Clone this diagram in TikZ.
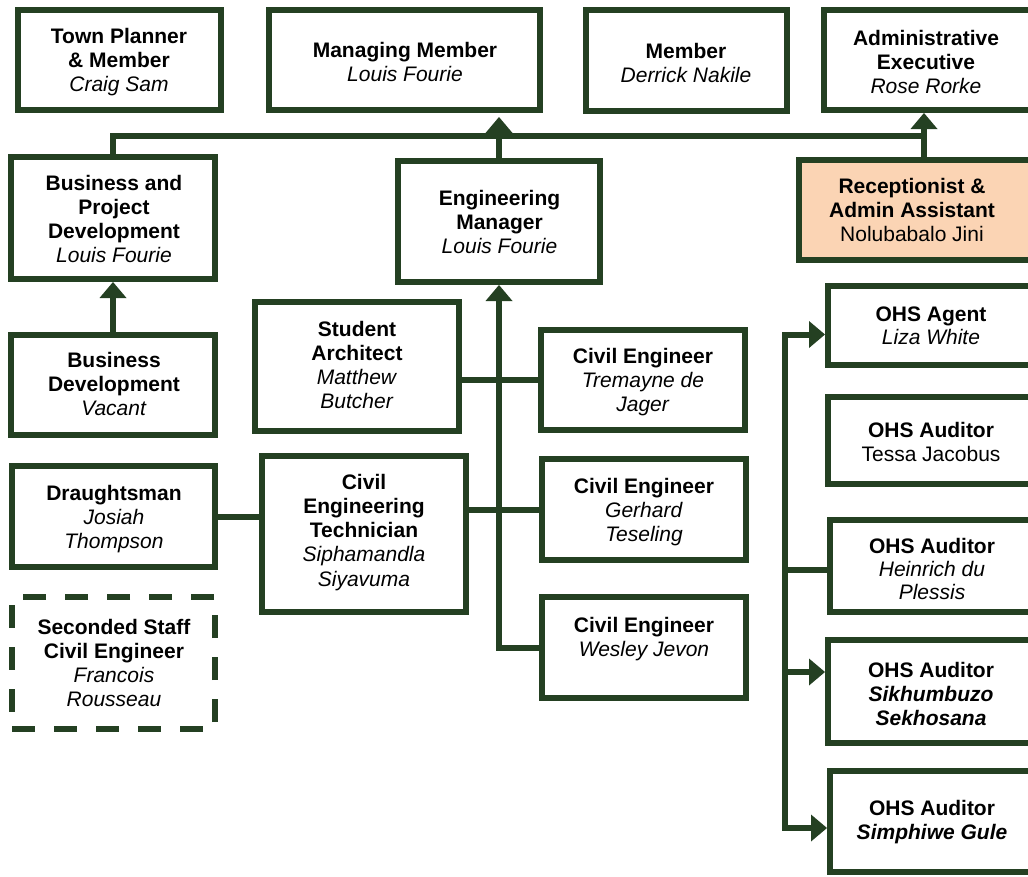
\documentclass[tikz,border=0pt]{standalone}
\usepackage{fontspec}
\setmainfont{Liberation Sans}
\usetikzlibrary{arrows.meta}
\definecolor{dg}{RGB}{36,64,34}
\definecolor{peach}{RGB}{251,212,180}
\begin{document}
\begin{tikzpicture}[x=1pt,y=-1pt,
  box/.style={draw=dg,line width=6pt,fill=white,outer sep=0pt,inner sep=0pt},
  txt/.style={anchor=north,align=center,inner sep=0pt,outer sep=0pt,text=black,font=\fontsize{21}{24.2}\selectfont},
  conn/.style={draw=dg,line width=6pt,line cap=rect},
  arr/.style={conn,-{Triangle[length=16pt,width=27pt,line width=0pt]},shorten >=3pt},
]
\useasboundingbox (0,0) rectangle (1028,876);

% top row
\node[box,minimum width=203pt,minimum height=100pt] (tp) at (119.5,60) {};
\node[txt] (tp-t) at (119,28) {\textbf{Town Planner}\\\textbf{\& Member}\\\textit{Craig Sam}};
\node[box,minimum width=271pt,minimum height=100pt] (mm) at (404.5,60) {};
\node[txt] (mm-t) at (405,42) {\textbf{Managing Member}\\\textit{Louis Fourie}};
\node[box,minimum width=201pt,minimum height=101pt] (mem) at (686.5,60.5) {};
\node[txt] (mem-t) at (686,43) {\textbf{Member}\\\textit{Derrick Nakile}};
\node[box,minimum width=210pt,minimum height=100pt] (ae) at (929,60) {};
\node[txt] (ae-t) at (926,30) {\textbf{Administrative}\\\textbf{Executive}\\\textit{Rose Rorke}};

% second row
\node[box,minimum width=204pt,minimum height=122pt] (bpd) at (113,218) {};
\node[txt] (bpd-t) at (114,175) {\textbf{Business and}\\\textbf{Project}\\\textbf{Development}\\\textit{Louis Fourie}};
\node[box,minimum width=202pt,minimum height=121pt] (em) at (499,221.5) {};
\node[txt] (em-t) at (499.5,190) {\textbf{Engineering}\\\textbf{Manager}\\\textit{Louis Fourie}};
\node[box,fill=peach,minimum width=232pt,minimum height=100pt] (rec) at (915,210) {};
\node[txt] (rec-t) at (912,178) {\textbf{Receptionist \&}\\\textbf{Admin Assistant}\\Nolubabalo Jini};

% left column
\node[box,minimum width=204pt,minimum height=100pt] (bd) at (113,385) {};
\node[txt] (bd-t) at (114,352) {\textbf{Business}\\\textbf{Development}\\\textit{Vacant}};
\node[box,minimum width=203pt,minimum height=101pt] (dr) at (113.5,516.5) {};
\node[txt] (dr-t) at (114,485) {\textbf{Draughtsman}\\\textit{Josiah}\\\textit{Thompson}};
\node[box,dash pattern=on 23pt off 19pt,minimum width=203pt,minimum height=132pt] (ss) at (113.5,663) {};
\node[txt] (ss-t) at (114,619) {\textbf{Seconded Staff}\\\textbf{Civil Engineer}\\\textit{Francois}\\\textit{Rousseau}};

% middle column
\node[box,minimum width=204pt,minimum height=129pt] (sa) at (357,366.5) {};
\node[txt] (sa-t) at (357,321) {\textbf{Student}\\\textbf{Architect}\\\textit{Matthew}\\\textit{Butcher}};
\node[box,minimum width=204pt,minimum height=156pt] (cet) at (364,534) {};
\node[txt] (cet-t) at (364,474) {\textbf{Civil}\\\textbf{Engineering}\\\textbf{Technician}\\\textit{Siphamandla}\\\textit{Siyavuma}};

% civil engineers
\node[box,minimum width=204pt,minimum height=100pt] (ce1) at (643,380) {};
\node[txt] (ce1-t) at (643,348) {\textbf{Civil Engineer}\\\textit{Tremayne de}\\\textit{Jager}};
\node[box,minimum width=204pt,minimum height=101pt] (ce2) at (644,509.5) {};
\node[txt] (ce2-t) at (644,478) {\textbf{Civil Engineer}\\\textit{Gerhard}\\\textit{Teseling}};
\node[box,minimum width=204pt,minimum height=101pt] (ce3) at (644,647.5) {};
\node[txt] (ce3-t) at (644,617) {\textbf{Civil Engineer}\\\textit{Wesley Jevon}};

% OHS column
\node[box,minimum width=206pt,minimum height=79pt] (ohs1) at (931,325.5) {};
\node[txt,font=\fontsize{21}{22.5}\selectfont] (ohs1-t) at (931,307) {\textbf{OHS Agent}\\\textit{Liza White}};
\node[box,minimum width=206pt,minimum height=87pt] (ohs2) at (931,440.5) {};
\node[txt] (ohs2-t) at (931,422) {\textbf{OHS Auditor}\\Tessa Jacobus};
\node[box,minimum width=204pt,minimum height=92pt] (ohs3) at (932,566) {};
\node[txt,font=\fontsize{21}{23.3}\selectfont] (ohs3-t) at (932,538) {\textbf{OHS Auditor}\\\textit{Heinrich du}\\\textit{Plessis}};
\node[box,minimum width=206pt,minimum height=103pt] (ohs4) at (931,691.5) {};
\node[txt] (ohs4-t) at (931,662) {\textbf{OHS Auditor}\\\textbf{\textit{Sikhumbuzo}}\\\textbf{\textit{Sekhosana}}};
\node[box,minimum width=204pt,minimum height=101pt] (ohs5) at (932,821.5) {};
\node[txt] (ohs5-t) at (932,800) {\textbf{OHS Auditor}\\\textbf{\textit{Simphiwe Gule}}};

% connectors
\coordinate (busL) at (113,135.5);
\coordinate (busR) at (924,135.5);
\draw[conn] (bpd.north) -- (busL) -- (busR) -- (busR |- rec.north);
\draw[arr] (busR) -- (busR |- ae.south);
\draw[arr,shorten >=7pt] (em.north) -- (em.north |- mm.south);
\draw[arr] (bd.north) -- (bpd.south);
\draw[arr] (ce3.west) -| (em.south);
\draw[conn] (sa.east |- ce1.west) -- (ce1.west);
\draw[conn] (cet.east |- ce2.west) -- (ce2.west);
\draw[conn] (dr.east) -- (dr.east -| cet.west);

\coordinate (r1) at (785,334.5);
\coordinate (r3) at (785,570);
\coordinate (r4) at (785,672);
\coordinate (r5) at (785,828);
\draw[arr] (r5) -- (r1) -- (r1 -| ohs1.west);
\draw[arr] (r4) -- (r4 -| ohs4.west);
\draw[arr] (r5) -- (r5 -| ohs5.west);
\draw[conn] (r3) -- (r3 -| ohs3.west);
\end{tikzpicture}
\end{document}
